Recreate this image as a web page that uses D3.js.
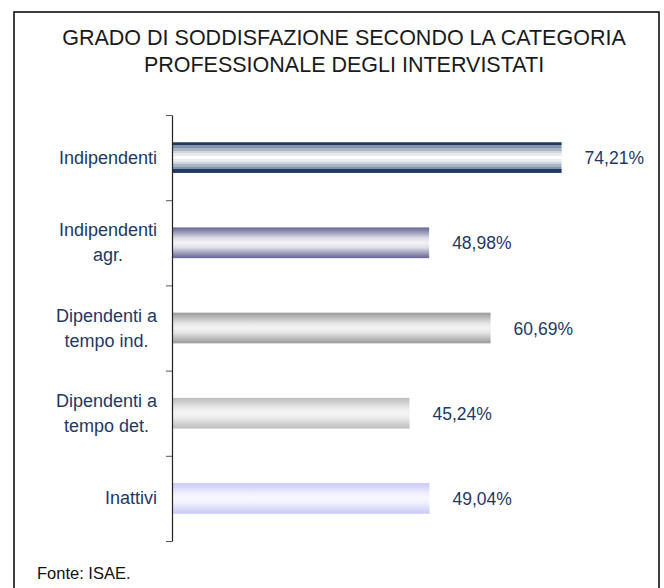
<!DOCTYPE html>
<html>
<head>
<meta charset="utf-8">
<script src="https://cdn.jsdelivr.net/npm/d3@7"></script>
<style>
  html, body { margin: 0; padding: 0; background: #fff; }
  svg { display: block; font-family: "Liberation Sans", Arial, sans-serif; }
</style>
</head>
<body>
<div id="chart"></div>
<script>
const categories = [
  ['Indipendenti'],
  ['Indipendenti', 'agr.'],
  ['Dipendenti a', 'tempo ind.'],
  ['Dipendenti a', 'tempo det.'],
  ['Inattivi'],
];
const values = [74.21, 48.98, 60.69, 45.24, 49.04];
const valueLabels = ['74,21%', '48,98%', '60,69%', '45,24%', '49,04%'];
const titleLines = [
  'GRADO DI SODDISFAZIONE SECONDO LA CATEGORIA',
  'PROFESSIONALE DEGLI INTERVISTATI',
];
const source = 'Fonte: ISAE.';

// edge / middle colours of each bar's cylinder-like fill
const barEdges = ['#1f3a63', '#656595', '#9a9a9a', '#bdbdbd', '#c9c9f7'];
const barMids = ['#ffffff', '#f4f4f6', '#f2f2f2', '#f4f4f4', '#f8f8ff'];

const width = 664, height = 588;
const svg = d3.select('#chart').append('svg')
  .attr('width', width).attr('height', height);

// frame
svg.append('rect')
  .attr('x', 14).attr('y', 12).attr('width', 645).attr('height', 620)
  .attr('fill', '#fff').attr('stroke', '#000').attr('stroke-width', 1.5);

// title
svg.append('g').selectAll('text').data(titleLines).join('text')
  .attr('x', 344).attr('y', (d, i) => 45 + i * 27)
  .attr('text-anchor', 'middle').attr('font-size', 21.5).attr('fill', '#1a1a1a')
  .text((d) => d);

const plotTop = 115, plotBottom = 541, plotLeft = 172;
const x = d3.scaleLinear().domain([0, 80]).range([plotLeft, plotLeft + 420]);
const y = d3.scaleBand().domain(d3.range(values.length)).range([plotTop, plotBottom]).paddingInner(0.64).paddingOuter(0.32);

// gradients
const defs = svg.append('defs');
values.forEach((v, i) => {
  const g = defs.append('linearGradient').attr('id', 'bar' + i)
    .attr('x1', 0).attr('y1', 0).attr('x2', 0).attr('y2', 1);
  const mix = d3.interpolateRgb(barEdges[i], barMids[i]);
  let stops;
  if (i === 0) {
    // banded look: hard steps between shades
    const bands = [[0, 0.09, 0], [0.09, 0.18, 0.45], [0.18, 0.27, 0.62], [0.27, 0.36, 0.78], [0.36, 0.45, 0.9],
      [0.45, 0.55, 1], [0.55, 0.64, 0.9], [0.64, 0.72, 0.78], [0.72, 0.8, 0.62], [0.8, 0.88, 0.45], [0.88, 1, 0]];
    stops = bands.flatMap(([a, b, t]) => [[a, t], [b, t]]);
  } else {
    stops = [[0, 0], [0.15, 0.35], [0.35, 0.85], [0.5, 1], [0.65, 0.85], [0.85, 0.35], [1, 0]];
  }
  stops.forEach(([o, t]) => g.append('stop').attr('offset', o).attr('stop-color', mix(t)));
});

// bars
svg.append('g').selectAll('rect').data(values).join('rect')
  .attr('x', x(0)).attr('y', (d, i) => y(i))
  .attr('width', (d) => x(d) - x(0)).attr('height', y.bandwidth())
  .attr('fill', (d, i) => `url(#bar${i})`);

// value labels
svg.append('g').selectAll('text').data(values).join('text')
  .attr('x', (d) => x(d) + 23).attr('y', (d, i) => y(i) + y.bandwidth() / 2 + 6.5)
  .attr('font-size', 17.5).attr('fill', '#1f3864')
  .text((d, i) => valueLabels[i]);

// axis
const axisScale = d3.scaleLinear().domain([0, values.length]).range([plotTop, plotBottom]);
svg.append('g').attr('transform', `translate(${plotLeft},0)`)
  .call(d3.axisLeft(axisScale).tickValues(d3.range(values.length + 1)).tickSize(6).tickSizeOuter(0).tickFormat(''))
  .call((g) => g.selectAll('line').attr('stroke', '#555'))
  .call((g) => g.select('.domain').attr('stroke', '#222').attr('stroke-width', 1.2));

// category labels
categories.forEach((lines, i) => {
  const cy = y(i) + y.bandwidth() / 2;
  const lh = 25;
  const texts = svg.append('g').selectAll('text').data(lines).join('text')
    .attr('y', (d, k) => cy + 6 + (k - (lines.length - 1) / 2) * lh)
    .attr('font-size', 18).attr('fill', '#1f3864').attr('text-anchor', 'middle')
    .text((d) => d);
  const w = d3.max(texts.nodes(), (n) => n.getComputedTextLength());
  texts.attr('x', 157 - w / 2);
});

// source
svg.append('text').attr('x', 37).attr('y', 579).attr('font-size', 16.5).attr('fill', '#111').text(source);
</script>
</body>
</html>
